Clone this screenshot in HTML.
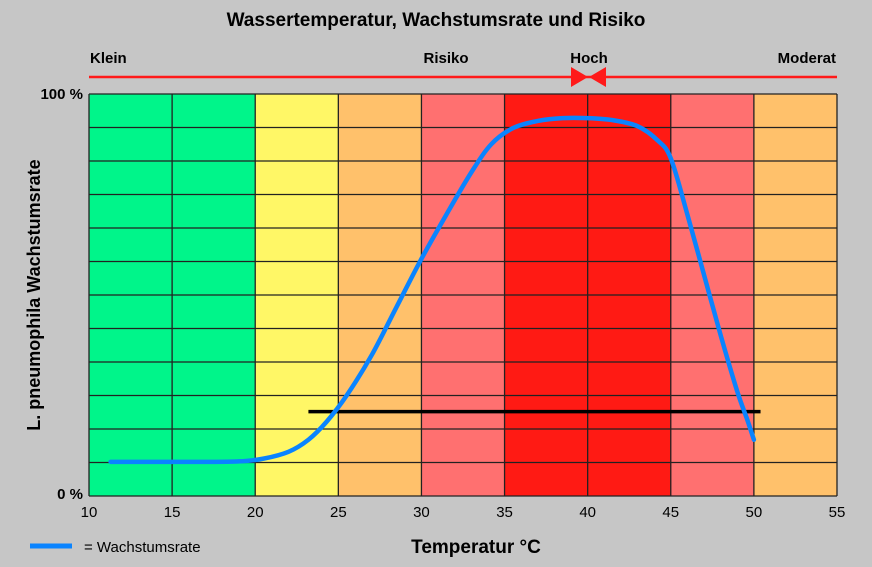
<!DOCTYPE html>
<html><head><meta charset="utf-8"><style>
body{margin:0;background:#c6c6c6;}
svg{display:block;font-family:"Liberation Sans",Arial,sans-serif;}
</style></head><body>
<svg id="chart" width="872" height="567" viewBox="0 0 872 567">
<rect width="872" height="567" fill="#c6c6c6"/>
<text x="436" y="26" text-anchor="middle" font-size="19" font-weight="bold" fill="#000">Wassertemperatur, Wachstumsrate und Risiko</text>
<text x="90" y="63" font-size="15" font-weight="bold">Klein</text>
<text x="446" y="63" font-size="15" font-weight="bold" text-anchor="middle">Risiko</text>
<text x="589" y="63" font-size="15" font-weight="bold" text-anchor="middle">Hoch</text>
<text x="836" y="63" font-size="15" font-weight="bold" text-anchor="end">Moderat</text>
<line x1="89" y1="77" x2="837" y2="77" stroke="#ff1a1a" stroke-width="2.5"/>
<polygon points="571,67 588,77 571,87" fill="#ff1a1a"/>
<polygon points="606,67 589,77 606,87" fill="#ff1a1a"/>
<g id="bands"></g>
<g id="grid"></g>
<g id="marks"></g>
<g id="axes"></g>
<text x="0" y="0" transform="translate(40,295) rotate(-90)" text-anchor="middle" font-size="18" font-weight="bold">L. pneumophila Wachstumsrate</text>
<text x="476" y="553" text-anchor="middle" font-size="19" font-weight="bold">Temperatur °C</text>
<line x1="30" y1="546" x2="72" y2="546" stroke="#0a84ff" stroke-width="5"/>
<text x="84" y="552" font-size="15">= Wachstumsrate</text>
</svg>
<script>
const bandStarts=[10,15,20,25,30,35,40,45,50];
const bandColors=['#00f58a','#00f58a','#fff766','#ffc16b','#ff7070','#ff1a14','#ff1a14','#ff7070','#ffc16b'];
const xTicks=[10,15,20,25,30,35,40,45,50,55];
const yTickLabels=['0 %','100 %'];
const curveTemps=[11.3,14,17,19,20.5,22,23.2,24.3,25.5,27,28.5,30,31.5,33,34.2,35.5,37,38.5,40,41.5,43,44.2,45,46,47,48,49,49.6,50];
const curveRates=[8.5,8.5,8.5,8.6,9.3,11,14,18.5,25,35,47,59,70,80.5,87.5,91.5,93.3,94,94,93.5,92,88.5,84,70,55,40,26,19,14];
const threshStart=23.2, threshEnd=50.4, threshRate=21;
const X0=89,X1=837,Y0=496,Y1=94;
const sx=t=>X0+(t-10)/45*(X1-X0);
const sy=v=>Y0-v/100*(Y0-Y1);
const NS='http://www.w3.org/2000/svg';
function mk(tag,attrs,parent){const e=document.createElementNS(NS,tag);for(const k in attrs)e.setAttribute(k,attrs[k]);document.getElementById(parent).appendChild(e);return e;}
bandStarts.forEach((b,i)=>{const r=mk('rect',{x:sx(b),y:Y1,width:sx(b+5)-sx(b),height:Y0-Y1,fill:bandColors[i]},'bands');

});
for(let i=0;i<=12;i++){const y=Y0-(Y0-Y1)*i/12;const l=mk('line',{x1:X0,x2:X1,y1:y,y2:y,stroke:'#222','stroke-width':1.3},'grid');

}
xTicks.forEach(t=>{const l=mk('line',{x1:sx(t),x2:sx(t),y1:Y1,y2:Y0,stroke:'#222','stroke-width':1.3},'grid');


const tx=mk('text',{x:sx(t),y:Y0+21,'text-anchor':'middle','font-size':15},'axes');tx.textContent=t;

});
const yl0=mk('text',{x:83,y:Y0+3,'text-anchor':'end','font-size':15,'font-weight':'bold'},'axes');yl0.textContent=yTickLabels[0];


const yl1=mk('text',{x:83,y:Y1+5,'text-anchor':'end','font-size':15,'font-weight':'bold'},'axes');yl1.textContent=yTickLabels[1];


const th=mk('line',{x1:sx(threshStart),x2:sx(threshEnd),y1:sy(threshRate),y2:sy(threshRate),stroke:'#000','stroke-width':3.5},'marks');


const pts=curveTemps.map((t,i)=>[sx(t),sy(curveRates[i])]);
let d='M'+pts[0][0]+','+pts[0][1];
for(let i=0;i<pts.length-1;i++){const p0=pts[Math.max(0,i-1)],p1=pts[i],p2=pts[i+1],p3=pts[Math.min(pts.length-1,i+2)];
d+=' C'+(p1[0]+(p2[0]-p0[0])/6)+','+(p1[1]+(p2[1]-p0[1])/6)+' '+(p2[0]-(p3[0]-p1[0])/6)+','+(p2[1]-(p3[1]-p1[1])/6)+' '+p2[0]+','+p2[1];}
const c=mk('path',{d:d,fill:'none',stroke:'#0a84ff','stroke-width':4.5,'stroke-linecap':'round'},'marks');


</script>
</body></html>
